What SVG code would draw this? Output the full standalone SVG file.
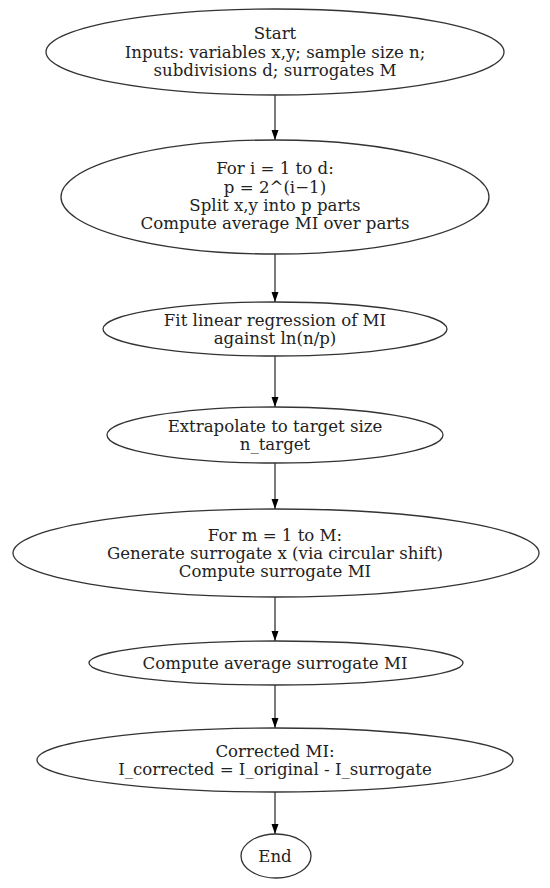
<svg xmlns="http://www.w3.org/2000/svg" width="550" height="888" viewBox="0 0 550 888">
<style>
.n{fill:#fff;stroke:#333;stroke-width:1.3}
.t{font-family:"DejaVu Serif",serif;font-size:16.6px;fill:#222;text-anchor:middle}
.e{stroke:#333;stroke-width:1.3;fill:none}
</style>
<defs>
<marker id="ah" markerWidth="10" markerHeight="10" refX="10" refY="5" orient="auto" markerUnits="userSpaceOnUse" viewBox="0 0 10 10">
<path d="M0,1.5 L10,5 L0,8.5 Z" fill="#000"/>
</marker>
</defs>
<rect width="550" height="888" fill="#fff"/>
<g id="edges">
<line class="e" x1="275" y1="95" x2="275" y2="140" marker-end="url(#ah)"/>
<line class="e" x1="275" y1="254" x2="275" y2="302" marker-end="url(#ah)"/>
<line class="e" x1="275" y1="356" x2="275" y2="407" marker-end="url(#ah)"/>
<line class="e" x1="275" y1="463" x2="275" y2="509" marker-end="url(#ah)"/>
<line class="e" x1="275" y1="597" x2="275" y2="641" marker-end="url(#ah)"/>
<line class="e" x1="275" y1="685" x2="275" y2="728" marker-end="url(#ah)"/>
<line class="e" x1="275" y1="792" x2="275" y2="834" marker-end="url(#ah)"/>
</g>
<g id="start">
<ellipse class="n" cx="275" cy="52" rx="229" ry="43"/>
<text class="t" x="275" y="39">Start</text>
<text class="t" x="275" y="58">Inputs: variables x,y; sample size n;</text>
<text class="t" x="275" y="76">subdivisions d; surrogates M</text>
</g>
<g id="loop_i">
<ellipse class="n" cx="275" cy="197" rx="214" ry="57"/>
<text class="t" x="275" y="174">For i = 1 to d:</text>
<text class="t" x="275" y="193">p = 2^(i−1)</text>
<text class="t" x="275" y="211">Split x,y into p parts</text>
<text class="t" x="275" y="229">Compute average MI over parts</text>
</g>
<g id="fit">
<ellipse class="n" cx="275" cy="329" rx="172" ry="27"/>
<text class="t" x="275" y="326">Fit linear regression of MI</text>
<text class="t" x="275" y="344">against ln(n/p)</text>
</g>
<g id="extrapolate">
<ellipse class="n" cx="275" cy="435" rx="168" ry="28"/>
<text class="t" x="275" y="432">Extrapolate to target size</text>
<text class="t" x="275" y="450">n_target</text>
</g>
<g id="loop_m">
<ellipse class="n" cx="276" cy="553" rx="263" ry="44"/>
<text class="t" x="275" y="541">For m = 1 to M:</text>
<text class="t" x="275" y="559">Generate surrogate x (via circular shift)</text>
<text class="t" x="275" y="577">Compute surrogate MI</text>
</g>
<g id="avg">
<ellipse class="n" cx="276" cy="663" rx="187" ry="22"/>
<text class="t" x="275" y="669">Compute average surrogate MI</text>
</g>
<g id="corrected">
<ellipse class="n" cx="275" cy="760" rx="238" ry="32"/>
<text class="t" x="275" y="757">Corrected MI:</text>
<text class="t" x="275" y="775">I_corrected = I_original - I_surrogate</text>
</g>
<g id="end">
<ellipse class="n" cx="276" cy="856" rx="35" ry="22"/>
<text class="t" x="275" y="862">End</text>
</g>
</svg>
